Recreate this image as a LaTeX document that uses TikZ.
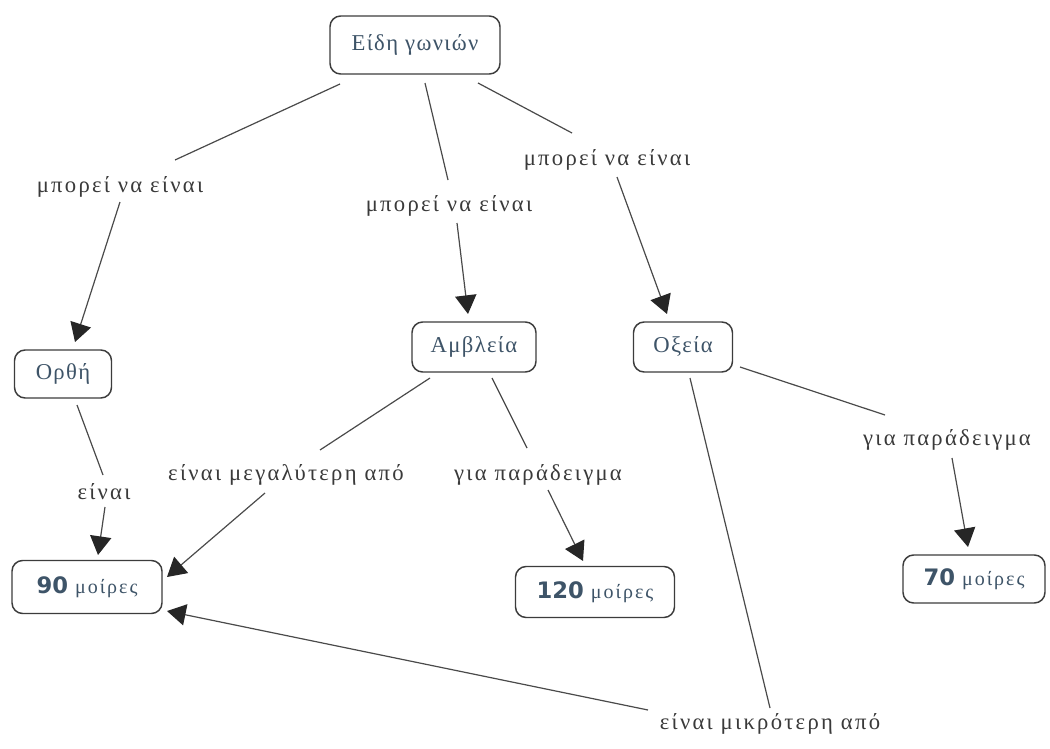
\documentclass[tikz,border=0pt]{standalone}
\usepackage{fontspec}
\setmainfont{Liberation Serif}
\newfontfamily\lblfont[LetterSpace=10]{Liberation Serif}
\newfontfamily\cptfont[LetterSpace=6]{Liberation Serif}
\newfontfamily\numfont{DejaVu Sans}
\usetikzlibrary{arrows.meta,calc}
\definecolor{boxline}{HTML}{3C3C3C}
\definecolor{boxtext}{HTML}{3E5468}
\definecolor{lbltext}{HTML}{3A3A3A}
\definecolor{wire}{HTML}{4A4A4A}
\newcommand{\degtext}[1]{{\numfont\bfseries\fontsize{17}{20}\selectfont #1}\ {\lblfont\fontsize{15}{18}\selectfont μοίρες}}
\tikzset{
  concept/.style={draw=boxline, line width=1.1pt, rounded corners=8pt, fill=white,
    text=boxtext, font=\cptfont\fontsize{17}{20}\selectfont, inner sep=0pt},
  degbox/.style={concept},
  linkword/.style={text=lbltext, font=\lblfont\fontsize{17}{20}\selectfont, inner sep=2pt},
  wire/.style={draw=wire, line width=0.9pt},
  arr/.style={wire, -{Triangle[length=14pt,width=16pt]}, arrows={[color=black!85]}},
}
\begin{document}
\begin{tikzpicture}[x=0.75pt, y=-0.75pt]
\useasboundingbox[fill=white] (0,0) rectangle (1050,749);

% concepts
\node[concept, minimum width=127.5pt, minimum height=43.5pt] (top) at (415,45) {Είδη γωνιών};
\node[concept, minimum width=72.75pt, minimum height=36pt] (orthi) at (63,374) {Ορθή};
\node[concept, minimum width=93pt, minimum height=37.5pt] (amvl) at (474,347) {Αμβλεία};
\node[concept, minimum width=74.25pt, minimum height=37.5pt] (oxeia) at (683,347) {Οξεία};
\node[degbox, minimum width=112.5pt, minimum height=39.75pt] (n90) at (87,587) {\degtext{90}};
\node[degbox, minimum width=119.25pt, minimum height=38.25pt] (n120) at (595,592) {\degtext{120}};
\node[degbox, minimum width=106.5pt, minimum height=36pt] (n70) at (974,579) {\degtext{70}};

% linking phrases
\node[linkword] (l1) at (120,187) {μπορεί να είναι};
\node[linkword] (l2) at (449,206) {μπορεί να είναι};
\node[linkword] (l3) at (607,160) {μπορεί να είναι};
\node[linkword] (l4) at (104,492) {είναι};
\node[linkword] (l5) at (286,475) {είναι μεγαλύτερη από};
\node[linkword] (l6) at (538,475) {για παράδειγμα};
\node[linkword] (l7) at (947,440) {για παράδειγμα};
\node[linkword] (l8) at (770,724) {είναι μικρότερη από};

% connectors
\draw[wire] ($(top)+(-75,39)$) -- ($(l1)+(55,-27)$);
\draw[arr]  ($(l1)+(0,15)$) -- ($(orthi)+(12,-32)$);
\draw[wire] ($(top)+(10,38)$) -- ($(l2)+(-1,-26)$);
\draw[arr]  ($(l2)+(8,17)$) -- ($(amvl)+(-6,-33)$);
\draw[wire] ($(top)+(63,38)$) -- ($(l3)+(-35,-27)$);
\draw[arr]  ($(l3)+(10,17)$) -- ($(oxeia)+(-16,-33)$);

\draw[wire] ($(orthi)+(14,31)$) -- ($(l4)+(-1,-17)$);
\draw[arr]  ($(l4)+(1,15)$) -- ($(n90)+(11,-32)$);

\draw[wire] ($(amvl)+(-44,31)$) -- ($(l5)+(34,-25)$);
\draw[arr]  ($(l5)+(-21,18)$) -- ($(n90)+(80,-10)$);
\draw[wire] ($(amvl)+(18,31)$) -- ($(l6)+(-11,-27)$);
\draw[arr]  ($(l6)+(10,15)$) -- ($(n120)+(-12,-31)$);

\draw[wire] ($(oxeia)+(57,20)$) -- ($(l7)+(-62,-25)$);
\draw[arr]  ($(l7)+(5,18)$) -- ($(n70)+(-6,-32)$);
\draw[wire] ($(oxeia)+(7,31)$) -- ($(l8)+(0,-16)$);
\draw[arr]  ($(l8)+(-122,-14)$) -- ($(n90)+(80,24)$);
\end{tikzpicture}
\end{document}
